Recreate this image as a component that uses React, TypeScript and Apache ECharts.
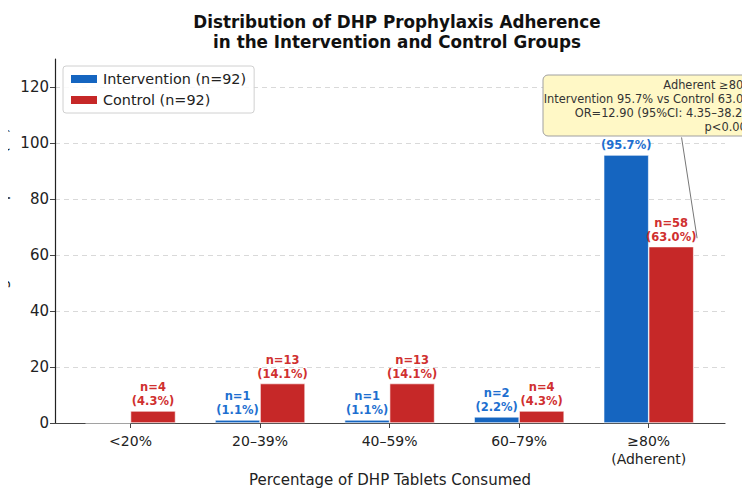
import React, { useEffect, useRef } from "react";
import * as echarts from "echarts";

const categories = ["<20%", "20–39%", "40–59%", "60–79%", "≥80%\n(Adherent)"];
const interventionN = [0, 1, 1, 2, 88];
const controlN = [4, 13, 13, 4, 58];
const interventionPct = [0, 1.1, 1.1, 2.2, 95.7];
const controlPct = [4.3, 14.1, 14.1, 4.3, 63.0];
const yTicks = [0, 20, 40, 60, 80, 100, 120];

const noteLines = [
  "Adherent ≥80%",
  "Intervention 95.7% vs Control 63.0%",
  "OR=12.90 (95%CI: 4.35–38.27)",
  "p<0.001",
];
// leader line from the note box down to the control bar label (data coords)
const leaderFrom = [4.08, 102.0];
const leaderTo = [4.2, 66.0];

const BLUE = "#1565C0";
const RED = "#C62828";
const FONT = "DejaVu Sans";

export default function App() {
  const ref = useRef<HTMLDivElement>(null);

  useEffect(() => {
    const chart = echarts.init(ref.current!, null, { renderer: "svg" });

    const makeLabel = (nArr: number[], pctArr: number[], color: string) => ({
      show: true,
      position: "top",
      distance: 3,
      color,
      fontFamily: FONT,
      fontWeight: "bold",
      fontSize: 11.5,
      lineHeight: 14,
      formatter: (p: any) =>
        nArr[p.dataIndex] === 0
          ? ""
          : `n=${nArr[p.dataIndex]}\n(${pctArr[p.dataIndex].toFixed(1)}%)`,
    });

    chart.setOption({
      animation: false,
      textStyle: { fontFamily: FONT },
      title: {
        text: "Distribution of DHP Prophylaxis Adherence\nin the Intervention and Control Groups",
        left: 392,
        top: 7,
        textAlign: "center",
        textStyle: {
          fontFamily: FONT,
          fontSize: 16.8,
          fontWeight: "bold",
          color: "#111",
          lineHeight: 20,
        },
      },
      legend: {
        orient: "vertical",
        left: 63,
        top: 66,
        itemWidth: 28,
        itemHeight: 10,
        itemGap: 7,
        padding: [6, 8, 6, 6],
        backgroundColor: "rgba(255,255,255,0.85)",
        borderColor: "#d0d0d0",
        borderWidth: 1,
        borderRadius: 3,
        textStyle: { fontFamily: FONT, fontSize: 14.4, color: "#222" },
        data: [
          { name: "Intervention (n=92)", icon: "rect" },
          { name: "Control (n=92)", icon: "rect" },
        ],
      },
      grid: {
        left: 55,
        right: 25,
        top: 59,
        bottom: 76,
        containLabel: false,
        outerBoundsMode: "none",
      },
      xAxis: {
        type: "value",
        min: -0.583,
        max: 4.589,
        name: "Percentage of DHP Tablets Consumed",
        nameLocation: "middle",
        nameGap: 47,
        nameTextStyle: { fontFamily: FONT, fontSize: 15, color: "#222" },
        axisLine: { show: true, onZero: false, lineStyle: { color: "#444", width: 1.2 } },
        axisTick: {
          show: true,
          length: 5,
          customValues: categories.map((_, i) => i),
          lineStyle: { color: "#444" },
        },
        axisLabel: {
          customValues: categories.map((_, i) => i),
          formatter: (v: number) => categories[Math.round(v)] ?? "",
          fontFamily: FONT,
          fontSize: 14,
          color: "#222",
          margin: 9,
          lineHeight: 18,
        },
        splitLine: { show: false },
      },
      yAxis: {
        type: "value",
        min: 0,
        max: 130,
        interval: 20,
        axisLine: { show: true, onZero: false, lineStyle: { color: "#222", width: 1.2 } },
        axisTick: {
          show: true,
          length: 5,
          customValues: yTicks,
          lineStyle: { color: "#444" },
        },
        axisLabel: {
          customValues: yTicks,
          fontFamily: FONT,
          fontSize: 15,
          color: "#222",
          margin: 6,
        },
        splitLine: {
          show: true,
          lineStyle: { color: "#d9d9d9", type: [5, 4], width: 1 },
        },
      },
      series: [
        {
          name: "Intervention (n=92)",
          type: "bar",
          barWidth: 45,
          barGap: "0%",
          itemStyle: { color: BLUE, borderColor: "#fff", borderWidth: 0.6 },
          label: makeLabel(interventionN, interventionPct, "#1E6FD0"),
          data: interventionPct.map((v, i) => [i, v]),
          z: 2,
        },
        {
          name: "Control (n=92)",
          type: "bar",
          barWidth: 45,
          barGap: "0%",
          itemStyle: { color: RED, borderColor: "#fff", borderWidth: 0.6 },
          label: makeLabel(controlN, controlPct, "#D03030"),
          data: controlPct.map((v, i) => [i, v]),
          z: 2,
          markLine: {
            silent: true,
            symbol: "none",
            label: { show: false },
            lineStyle: { color: "#777", width: 1, type: "solid" },
            data: [[{ coord: leaderFrom }, { coord: leaderTo }]],
            z: 5,
          },
        },
      ],
      graphic: [
        {
          // y-axis title, rotated to read bottom-to-top
          type: "text",
          x: 2,
          y: 241,
          rotation: Math.PI / 2,
          style: {
            text: "Percentage of Participants (%)",
            align: "center",
            verticalAlign: "middle",
            fontFamily: FONT,
            fontSize: 15,
            fill: "#222",
          },
        },
        {
          type: "group",
          z: 100,
          children: [
            {
              type: "rect",
              shape: { x: 543, y: 75, width: 222, height: 61, r: 5 },
              style: { fill: "#FFF8C6", stroke: "#a0a0a0", lineWidth: 1 },
              z: 100,
            },
            ...noteLines.map((t, i) => ({
              type: "text",
              x: 754,
              y: 85 + i * 14,
              z: 101,
              style: {
                text: t,
                align: "right",
                verticalAlign: "middle",
                fontFamily: FONT,
                fontSize: 11.4,
                fill: "#333",
              },
            })),
          ],
        },
      ],
    });

    return () => chart.dispose();
  }, []);

  return <div ref={ref} style={{ width: 750, height: 499, margin: -8 }} />;
}
